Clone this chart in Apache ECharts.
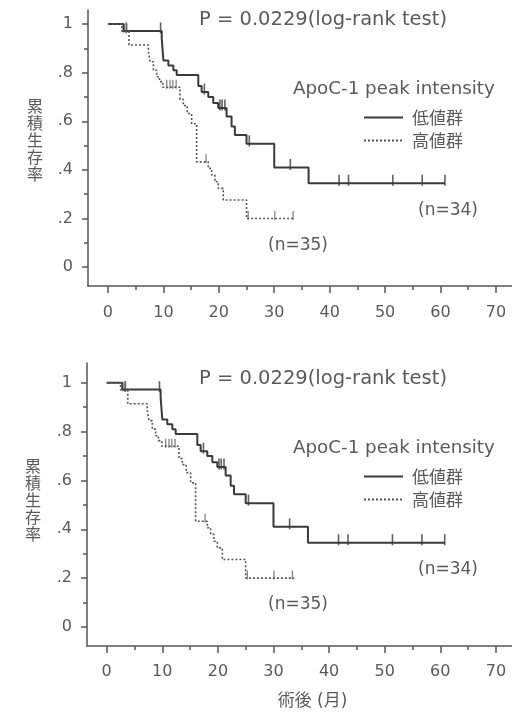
<!DOCTYPE html>
<html><head><meta charset="utf-8">
<script src="https://cdn.jsdelivr.net/npm/echarts@6/dist/echarts.min.js"></script>
<style>html,body{margin:0;padding:0;background:#fff}#c{width:512px;height:713px}</style>
</head><body><div id="c"></div>
<script>
// ---- data ----
const xTicks = [0, 10, 20, 30, 40, 50, 60, 70];
const xMinorTicks = [5, 15, 25, 35, 45, 55, 65];
const yTicks = [0, 0.2, 0.4, 0.6, 0.8, 1];
const yTickLabels = ['0', '.2', '.4', '.6', '.8', '1'];
const yMinorTicks = [0.1, 0.3, 0.5, 0.7, 0.9];
const seriesNames = ['低値群', '高値群'];

// low group (n=34): event times and survival after each step
const lowTime = [0, 2.8, 9.7, 10.0, 10.9, 11.8, 12.4, 16.3, 16.9, 18.1, 19.0, 19.9, 21.4, 22.3, 22.9, 25.0, 30.0, 36.2, 60.8];
const lowSurv = [1, 0.972, 0.942, 0.85, 0.83, 0.81, 0.79, 0.745, 0.72, 0.70, 0.675, 0.655, 0.62, 0.578, 0.543, 0.507, 0.41, 0.345, 0.345];
const lowCensor = [3.3, 9.5, 17.4, 20.2, 20.6, 21.1, 25.5, 32.9, 41.7, 43.4, 51.4, 56.7, 60.8];

// high group (n=35)
const highTime = [0, 2.5, 3.8, 7.3, 7.6, 8.2, 8.8, 9.3, 9.9, 13.0, 13.6, 14.3, 15.1, 16.0, 18.1, 18.7, 19.3, 19.9, 20.8, 25.0, 33.7];
const highSurv = [1, 0.971, 0.914, 0.886, 0.845, 0.81, 0.783, 0.763, 0.74, 0.69, 0.665, 0.632, 0.59, 0.433, 0.406, 0.379, 0.351, 0.324, 0.276, 0.2, 0.2];
const highCensor = [2.9, 3.4, 10.6, 11.2, 11.7, 12.3, 17.7, 25.3, 30.1, 33.4];

const titleText = 'P = 0.0229(log-rank test)';
const legendTitle = 'ApoC-1 peak intensity';
const nLow = '(n=34)';
const nHigh = '(n=35)';
const yName = '累積生存率';
const xName = '術後 (月)';

// ---- helpers ----
function pairs(t, s) { return t.map((v, i) => [v, s[i]]); }
function levelAt(t, times, surv) {
  let s = surv[0];
  for (let i = 0; i < times.length; i++) { if (times[i] <= t) s = surv[i]; }
  return s;
}
function yLabel(v) {
  let best = 0;
  for (let i = 0; i < yTicks.length; i++) if (Math.abs(yTicks[i] - v) < Math.abs(yTicks[best] - v)) best = i;
  return yTickLabels[best];
}

const FONT = '"DejaVu Sans", "Noto Sans CJK JP"';
const CJK = '"Noto Sans CJK JP"';
const TXT = '#5a5a5a';
const AX = '#555';

const panels = [
  { left: 88, top: 10, height: 276, xmin: -3.6, xmax: 72.9, ymin: -0.078, ymax: 1.058, dy: 0, yx: 35, showXName: false, lm: 19 },
  { left: 87, top: 363, height: 283, xmin: -3.54, xmax: 72.9, ymin: -0.078, ymax: 1.081, dy: 359, yx: 33, showXName: true, lm: 18 }
];

const grid = [], xAxis = [], yAxis = [], series = [], legend = [], graphic = [];
const lowPts = pairs(lowTime, lowSurv);
const highPts = pairs(highTime, highSurv);
const lowC = lowCensor.map(t => [t, levelAt(t, lowTime, lowSurv)]);
const highC = highCensor.map(t => [t, levelAt(t, highTime, highSurv)]);

panels.forEach((p, i) => {
  grid.push({ left: p.left, top: p.top, right: 0, height: p.height, containLabel: false });
  const baseX = {
    type: 'value', gridIndex: i, min: p.xmin, max: p.xmax, position: 'bottom',
    splitLine: { show: false }
  };
  xAxis.push(Object.assign({}, baseX, {
    axisLine: { show: true, onZero: false, lineStyle: { color: AX, width: 1.5 } },
    axisTick: { show: true, customValues: xTicks, length: 7, lineStyle: { color: AX, width: 1.5 } },
    axisLabel: { show: true, customValues: xTicks, margin: p.lm, fontSize: 16, color: TXT, fontFamily: FONT },
    name: p.showXName ? xName : '', nameLocation: 'middle', nameGap: 47,
    nameTextStyle: { fontSize: 17, color: TXT, fontFamily: FONT, padding: [0, 0, 0, 26] }
  }));
  xAxis.push(Object.assign({}, baseX, {
    axisLine: { show: false, onZero: false },
    axisTick: { show: true, customValues: xMinorTicks, length: 4, lineStyle: { color: AX, width: 1.5 } },
    axisLabel: { show: false }
  }));
  const baseY = { type: 'value', gridIndex: i, min: p.ymin, max: p.ymax, position: 'left', splitLine: { show: false } };
  yAxis.push(Object.assign({}, baseY, {
    axisLine: { show: true, onZero: false, lineStyle: { color: AX, width: 1.5 } },
    axisTick: { show: true, customValues: yTicks, length: 6, lineStyle: { color: AX, width: 1.5 } },
    axisLabel: { show: true, customValues: yTicks, margin: 15, fontSize: 16, color: TXT, fontFamily: FONT, formatter: yLabel }
  }));
  yAxis.push(Object.assign({}, baseY, {
    axisLine: { show: false, onZero: false },
    axisTick: { show: true, customValues: yMinorTicks, length: 4, lineStyle: { color: AX, width: 1.5 } },
    axisLabel: { show: false }
  }));
  const xi = 2 * i, yi = 2 * i;
  series.push({
    name: seriesNames[0], type: 'line', step: 'end', xAxisIndex: xi, yAxisIndex: yi,
    data: lowPts, symbol: 'none', lineStyle: { color: '#3a3a3a', width: 2 }, itemStyle: { color: '#3a3a3a' },
    silent: true, animation: false
  });
  series.push({
    name: seriesNames[1], type: 'line', step: 'end', xAxisIndex: xi, yAxisIndex: yi,
    data: highPts, symbol: 'none', lineStyle: { color: '#555', width: 1.6, type: [2, 2] }, itemStyle: { color: '#555' },
    silent: true, animation: false
  });
  series.push({
    name: 'censor-low', type: 'scatter', xAxisIndex: xi, yAxisIndex: yi, data: lowC,
    symbol: 'rect', symbolSize: [1.6, 11], symbolOffset: [0, -3], itemStyle: { color: '#3a3a3a' }, silent: true, animation: false
  });
  series.push({
    name: 'censor-high', type: 'scatter', xAxisIndex: xi, yAxisIndex: yi, data: highC,
    symbol: 'rect', symbolSize: [1.3, 9], symbolOffset: [0, -3], itemStyle: { color: '#666' }, silent: true, animation: false
  });
  legend.push({
    data: seriesNames, orient: 'vertical', left: 363, top: 109 + p.dy, itemWidth: 39, itemHeight: 14, itemGap: 6,
    padding: 0, selectedMode: false,
    itemStyle: { opacity: 0, borderWidth: 0 },
    textStyle: { fontSize: 17, color: TXT, fontFamily: CJK, lineHeight: 14, padding: [0, 0, 0, 4] }
  });
  const t = (txt, x, y, size, align, fam, extra) => ({
    type: 'text', x: x, y: y,
    style: Object.assign({ text: txt, fontSize: size, fill: TXT, fontFamily: fam, align: align, verticalAlign: 'middle' }, extra || {})
  });
  graphic.push(t(titleText, 323, 20 + p.dy, 19.5, 'center', FONT));
  graphic.push(t(legendTitle, 293, 89 + p.dy, 18.3, 'left', FONT));
  graphic.push(t(nLow, 448, 211 + p.dy, 17, 'center', FONT));
  graphic.push(t(nHigh, 298, 246 + p.dy, 17, 'center', FONT));
  graphic.push(t(yName.split('').join('\n'), p.yx, 140 + p.dy + (i ? 1 : 0), 16, 'center', CJK, { lineHeight: 17.2 }));
});

const chart = echarts.init(document.getElementById('c'), null, { renderer: 'canvas' });
chart.setOption({ animation: false, grid, xAxis, yAxis, series, legend, graphic });
</script></body></html>
